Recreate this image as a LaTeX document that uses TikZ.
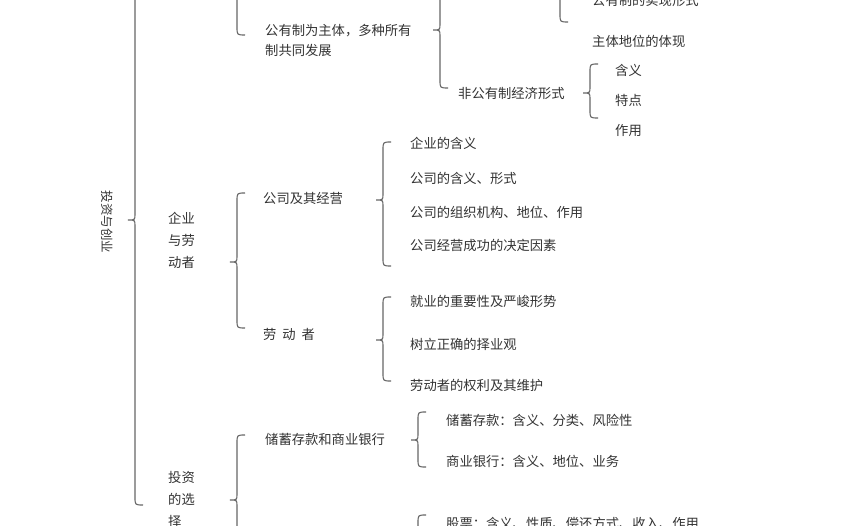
\documentclass[tikz,border=0pt]{standalone}
\usepackage{fontspec}
\newfontfamily\cjk{Noto Sans CJK SC}
\newcommand\brc[4]{%
 \draw[brace] (#1+8,#2) .. controls (#1,#2) .. (#1,#2+8) -- (#1,#3-6) .. controls (#1,#3) .. (#1-7,#3)
  .. controls (#1,#3) .. (#1,#3+6) -- (#1,#4-8) .. controls (#1,#4) .. (#1+8,#4);}
\begin{document}
\begin{tikzpicture}[x=1pt,y=-1pt,
 brace/.style={draw=black!60,line width=1.1pt},
 t/.style={font=\cjk\fontsize{13.3}{20}\selectfont,text=black!80,anchor=west,inner sep=0pt}]
\useasboundingbox (0,0) rectangle (849,526);
\fill[white] (0,0) rectangle (849,526);
% main brace
\brc{135}{-30}{220}{505}
\node[t,anchor=center,rotate=-90,font=\cjk\fontsize{12.5}{14}\selectfont] (root) at (107,222) {投资与创业};
% top part
\draw[brace] (237,-10) -- (237,27) .. controls (237,35) .. (245,35);
\node[t,align=left] (gy) at (265,40) {公有制为主体，多种所有\\制共同发展};
\brc{440}{-40}{30}{88}
\draw[brace] (560,-10) -- (560,14) .. controls (560,22) .. (568,22);
\node[t] (sx) at (592,0) {公有制的实现形式};
\node[t] (zt) at (592,41) {主体地位的体现};
\node[t] (fg) at (458,93) {非公有制经济形式};
\brc{590}{64}{93}{118}
\node[t] (hy) at (615,70) {含义};
\node[t] (td) at (615,100) {特点};
\node[t] (zy) at (615,131) {作用};
% enterprise
\node[t,align=left,font=\cjk\fontsize{13.3}{22}\selectfont] (qy) at (168,240) {企业\\与劳\\动者};
\brc{237}{193}{262}{328}
\node[t] (gs) at (263,198) {公司及其经营};
\brc{383}{142}{200}{266}
\node[t] (a1) at (410,143) {企业的含义};
\node[t] (a2) at (410,178) {公司的含义、形式};
\node[t] (a3) at (410,212) {公司的组织机构、地位、作用};
\node[t] (a4) at (410,245) {公司经营成功的决定因素};
\node[t] (ld) at (263,334) {劳\ \ 动\ \ 者};
\brc{383}{297}{340}{381}
\node[t] (b1) at (410,301) {就业的重要性及严峻形势};
\node[t] (b2) at (410,344) {树立正确的择业观};
\node[t] (b3) at (410,385) {劳动者的权利及其维护};
% investment
\node[t,align=left,anchor=north west,font=\cjk\fontsize{13.3}{22}\selectfont] (tz) at (168,471) {投资\\的选\\择};
\brc{237}{435}{500}{565}
\node[t] (cx) at (265,439) {储蓄存款和商业银行};
\brc{418}{412}{440}{467}
\node[t] (c1) at (446,420) {储蓄存款：含义、分类、风险性};
\node[t] (c2) at (446,461) {商业银行：含义、地位、业务};
\draw[brace] (426,515) .. controls (418,515) .. (418,523) -- (418,540);
\node[t] (c3) at (446,523) {股票：含义、性质、偿还方式、收入、作用};
\end{tikzpicture}
\end{document}
